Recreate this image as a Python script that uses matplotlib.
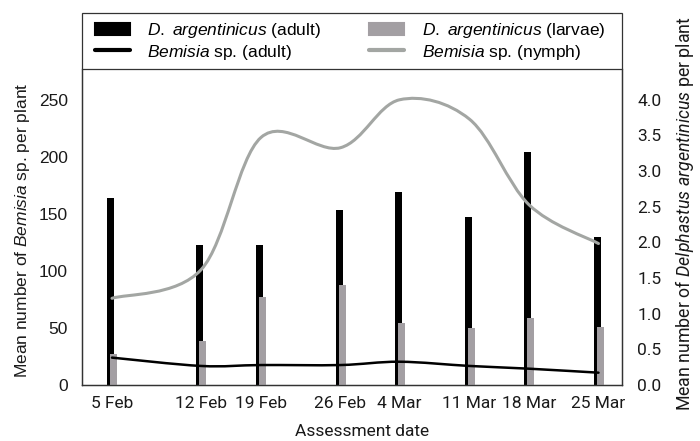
import numpy as np
import matplotlib
matplotlib.use('Agg')
import matplotlib.pyplot as plt
from matplotlib.path import Path
from matplotlib.patches import PathPatch, Patch, Rectangle
from matplotlib.lines import Line2D
from matplotlib.font_manager import FontProperties

# data
dates = ['5 Feb', '12 Feb', '19 Feb', '26 Feb', '4 Mar', '11 Mar', '18 Mar', '25 Mar']
date_x = [30, 119, 179, 258.5, 317.5, 387.5, 447, 516.5]   # uneven spacing as drawn
delph_adult = [2.62, 1.96, 1.96, 2.45, 2.70, 2.36, 3.27, 2.07]
delph_larvae = [0.44, 0.62, 1.23, 1.40, 0.87, 0.80, 0.94, 0.82]
bemisia_adult = [24, 16.7, 17.5, 17.5, 20.4, 16.7, 14.3, 10.8]
bemisia_nymph = [76, 101, 217, 208, 250, 233, 158, 124]

grey_bar = '#a39fa3'
grey_line = '#a3a6a3'
txt = '#1a1a1a'

plt.rcParams['mathtext.fontset'] = 'custom'
plt.rcParams['mathtext.rm'] = 'Liberation Sans'
plt.rcParams['mathtext.it'] = 'Liberation Sans:italic'
plt.rcParams['mathtext.sf'] = 'Roboto:italic'


def smooth_path(x, y):
    # excel style smoothed line: bezier through the points
    pts = np.column_stack([x, y]).astype(float)
    n = len(pts)
    verts = [pts[0]]
    codes = [Path.MOVETO]
    for i in range(n - 1):
        p0 = pts[max(i - 1, 0)]
        p1 = pts[i]
        p2 = pts[i + 1]
        p3 = pts[min(i + 2, n - 1)]
        verts += [p1 + (p2 - p0) / 6, p2 - (p3 - p1) / 6, p2]
        codes += [Path.CURVE4] * 3
    return Path(verts, codes)


fig = plt.figure(figsize=(7, 4.41), dpi=100)
ax = fig.add_axes([82 / 700, 56 / 441, 540 / 700, 316 / 441])
ax2 = ax.twinx()
ax.set_zorder(ax2.get_zorder() + 1)
ax.patch.set_visible(False)

xs = np.array(date_x)
ax2.bar(xs - 1.5, delph_adult, width=7, color='black', zorder=2)
ax2.bar(xs + 1.5, delph_larvae, width=7, color=grey_bar, zorder=3)

ax.add_patch(PathPatch(smooth_path(xs, bemisia_nymph), fill=False, edgecolor=grey_line,
                       lw=2.2, capstyle='round'))
ax.add_patch(PathPatch(smooth_path(xs, bemisia_adult), fill=False, edgecolor='black',
                       lw=1.8, capstyle='round'))

ax.set_xlim(0, 540)
ax.set_ylim(0, 277)
ax2.set_ylim(0, 4.43)
ax.set_yticks([0, 50, 100, 150, 200, 250])
ax2.set_yticks(np.arange(0, 4.01, 0.5))
ax2.set_yticklabels(['%.1f' % v for v in np.arange(0, 4.01, 0.5)])
ax.set_xticks(xs)
ax.set_xticklabels(dates)

arial = FontProperties(family='Liberation Sans', size=12.5)
roboto = FontProperties(family='Roboto', size=12.5)
for lab in ax.get_yticklabels():
    lab.set_fontproperties(arial)
for lab in ax.get_xticklabels() + ax2.get_yticklabels():
    lab.set_fontproperties(roboto)
for a in (ax, ax2):
    a.tick_params(axis='both', length=0, labelcolor=txt)
    for s in a.spines.values():
        s.set_linewidth(0.9)
        s.set_color('#333333')
    a.spines['top'].set_visible(False)
ax.tick_params(axis='x', pad=8)
ax.tick_params(axis='y', pad=10)
ax2.tick_params(axis='y', pad=11)

ax.set_ylabel(r'Mean number of $Bemisia$ sp. per plant', family='Liberation Sans',
              size=12.5, color=txt)
ax2.set_ylabel(r'Mean number of $\mathsf{Delphastus\ argentinicus}$ per plant',
               family='Roboto', size=12.8, color=txt)
ax.set_xlabel('Assessment date', family='Roboto', size=12.5, color=txt)
ax.yaxis.set_label_coords(-0.093, 0.49)
ax2.yaxis.set_label_coords(1.094, 0.541)
ax.xaxis.set_label_coords(0.518, -0.123)

# legend box spanning the axes width, sitting on top of it
ax.add_patch(Rectangle((0, 1), 1, 56 / 316, transform=ax.transAxes, facecolor='white',
                       edgecolor='#333333', lw=0.9, clip_on=False, zorder=5))
handles = [
    Patch(facecolor='black', edgecolor='black', lw=1.5, joinstyle='round'),
    Line2D([], [], color='black', lw=3, solid_capstyle='round'),
    Patch(facecolor=grey_bar, edgecolor=grey_bar, lw=1.5, joinstyle='round'),
    Line2D([], [], color=grey_line, lw=3, solid_capstyle='round'),
]
labels = [r'$D.\ argentinicus$ (adult)', r'$Bemisia$ sp. (adult)',
          r'$D.\ argentinicus$ (larvae)', r'$Bemisia$ sp. (nymph)']
leg = ax.legend(handles, labels, ncol=2, loc='center left',
                bbox_to_anchor=(13 / 540, (385 - 41.5) / 316, 510 / 540, 0),
                mode='expand', borderaxespad=0, frameon=False, borderpad=0,
                prop={'family': 'Liberation Sans', 'size': 12.5},
                handlelength=2.0, handletextpad=1.0, labelspacing=0.12)
leg.set_zorder(6)

fig.savefig('out.png', dpi=100)
